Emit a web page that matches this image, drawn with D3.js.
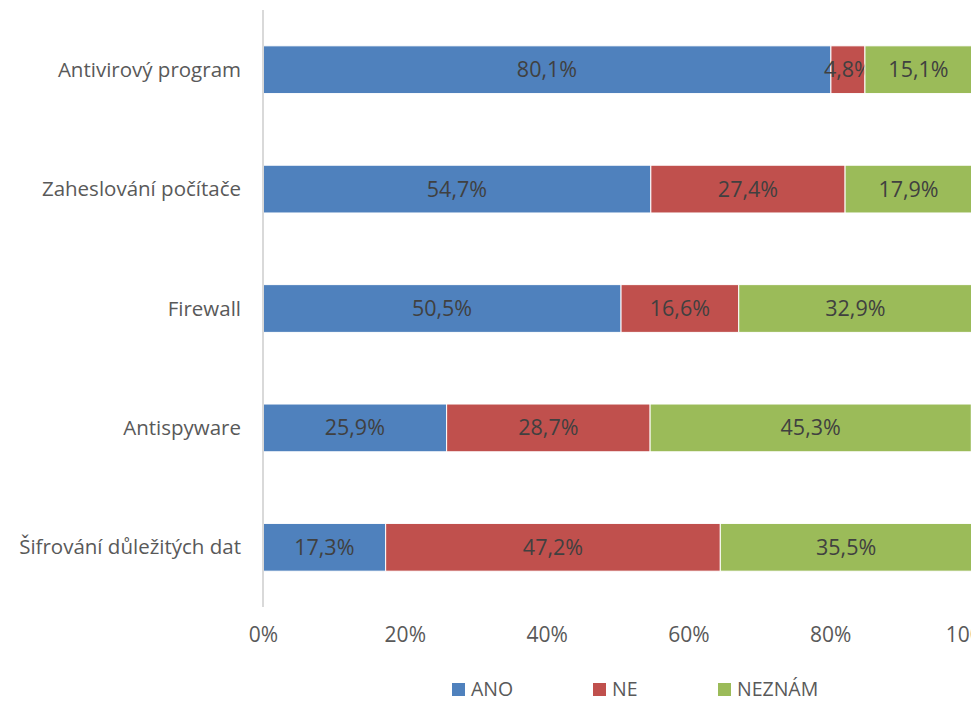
<!DOCTYPE html>
<html>
<head>
<meta charset="utf-8">
<script src="https://cdn.jsdelivr.net/npm/d3@7/dist/d3.min.js"></script>
<style>
  html, body { margin: 0; padding: 0; background: #fff; overflow: hidden; }
  svg { display: block; font-family: "Open Sans", "Noto Sans", sans-serif; }
</style>
</head>
<body>
<svg id="chart" width="971" height="701"></svg>
<script>
// Categories (top to bottom) and the share for each answer
const categories = ["Antivirový program", "Zaheslování počítače", "Firewall", "Antispyware", "Šifrování důležitých dat"];
const ano    = [80.1, 54.7, 50.5, 25.9, 17.3];
const ne     = [4.8, 27.4, 16.6, 28.7, 47.2];
const neznam = [15.1, 17.9, 32.9, 45.3, 35.5];
const seriesNames = ["ANO", "NE", "NEZNÁM"];
const ticks = [0, 20, 40, 60, 80, 100];

const colors = ["#4f81bd", "#c0504d", "#9bbb59"];

const svg = d3.select("#chart");

const x = d3.scaleLinear().domain([0, 100]).range([263, 972]);
const y = d3.scaleBand().domain(categories).range([10, 607]).paddingInner(0.6).paddingOuter(0.3);

const rows = categories.map((c, i) => ({ cat: c, ANO: ano[i], NE: ne[i], "NEZNÁM": neznam[i] }));
const stacked = d3.stack().keys(seriesNames)(rows);

const fmt = v => v.toFixed(1).replace(".", ",") + "%";

// Bars
const layers = svg.append("g").selectAll("g").data(stacked).join("g")
  .attr("fill", (d, i) => colors[i]);

layers.selectAll("rect").data(d => d).join("rect")
  .attr("x", d => x(d[0]))
  .attr("y", d => y(d.data.cat))
  .attr("width", d => x(d[1]) - x(d[0]))
  .attr("height", y.bandwidth())
  .attr("stroke", "#fff")
  .attr("stroke-width", 1);

// Value labels centred in each segment
layers.selectAll("text").data(d => d.map(v => ({ v, key: d.key }))).join("text")
  .attr("x", d => (x(d.v[0]) + x(d.v[1])) / 2)
  .attr("y", d => y(d.v.data.cat) + y.bandwidth() / 2)
  .attr("dy", "0.35em")
  .attr("text-anchor", "middle")
  .attr("fill", "#404040")
  .style("font-size", "21.5px")
  .text(d => fmt(d.v.data[d.key]));

// Vertical category axis line
svg.append("line")
  .attr("x1", 263).attr("x2", 263)
  .attr("y1", 10).attr("y2", 607)
  .attr("stroke", "#d9d9d9").attr("stroke-width", 2);

// Category labels
svg.append("g").selectAll("text").data(categories).join("text")
  .attr("x", 241)
  .attr("y", d => y(d) + y.bandwidth() / 2)
  .attr("dy", "0.35em")
  .attr("text-anchor", "end")
  .attr("fill", "#595959")
  .style("font-size", "20.5px")
  .text(d => d);

// Percentage axis labels
const xAxis = d3.axisBottom(x).tickValues(ticks).tickFormat(d => d + "%").tickSize(0).tickPadding(0);
const gx = svg.append("g").attr("transform", "translate(0,635)").call(xAxis);
gx.select(".domain").remove();
gx.selectAll("text")
  .attr("y", 0)
  .attr("dy", "0.35em")
  .attr("fill", "#595959")
  .style("font-size", "21px")
  .style("font-family", "\"Open Sans\", sans-serif");

// Legend
const legendX = [452, 593, 718];
const legend = svg.append("g").selectAll("g").data(seriesNames).join("g")
  .attr("transform", (d, i) => `translate(${legendX[i]},683)`);
legend.append("rect").attr("width", 13).attr("height", 13).attr("fill", (d, i) => colors[i]);
legend.append("text")
  .attr("x", 19).attr("y", 6.5).attr("dy", "0.35em")
  .attr("fill", "#595959")
  .style("font-size", "19.5px")
  .text(d => d);
</script>
</body>
</html>
